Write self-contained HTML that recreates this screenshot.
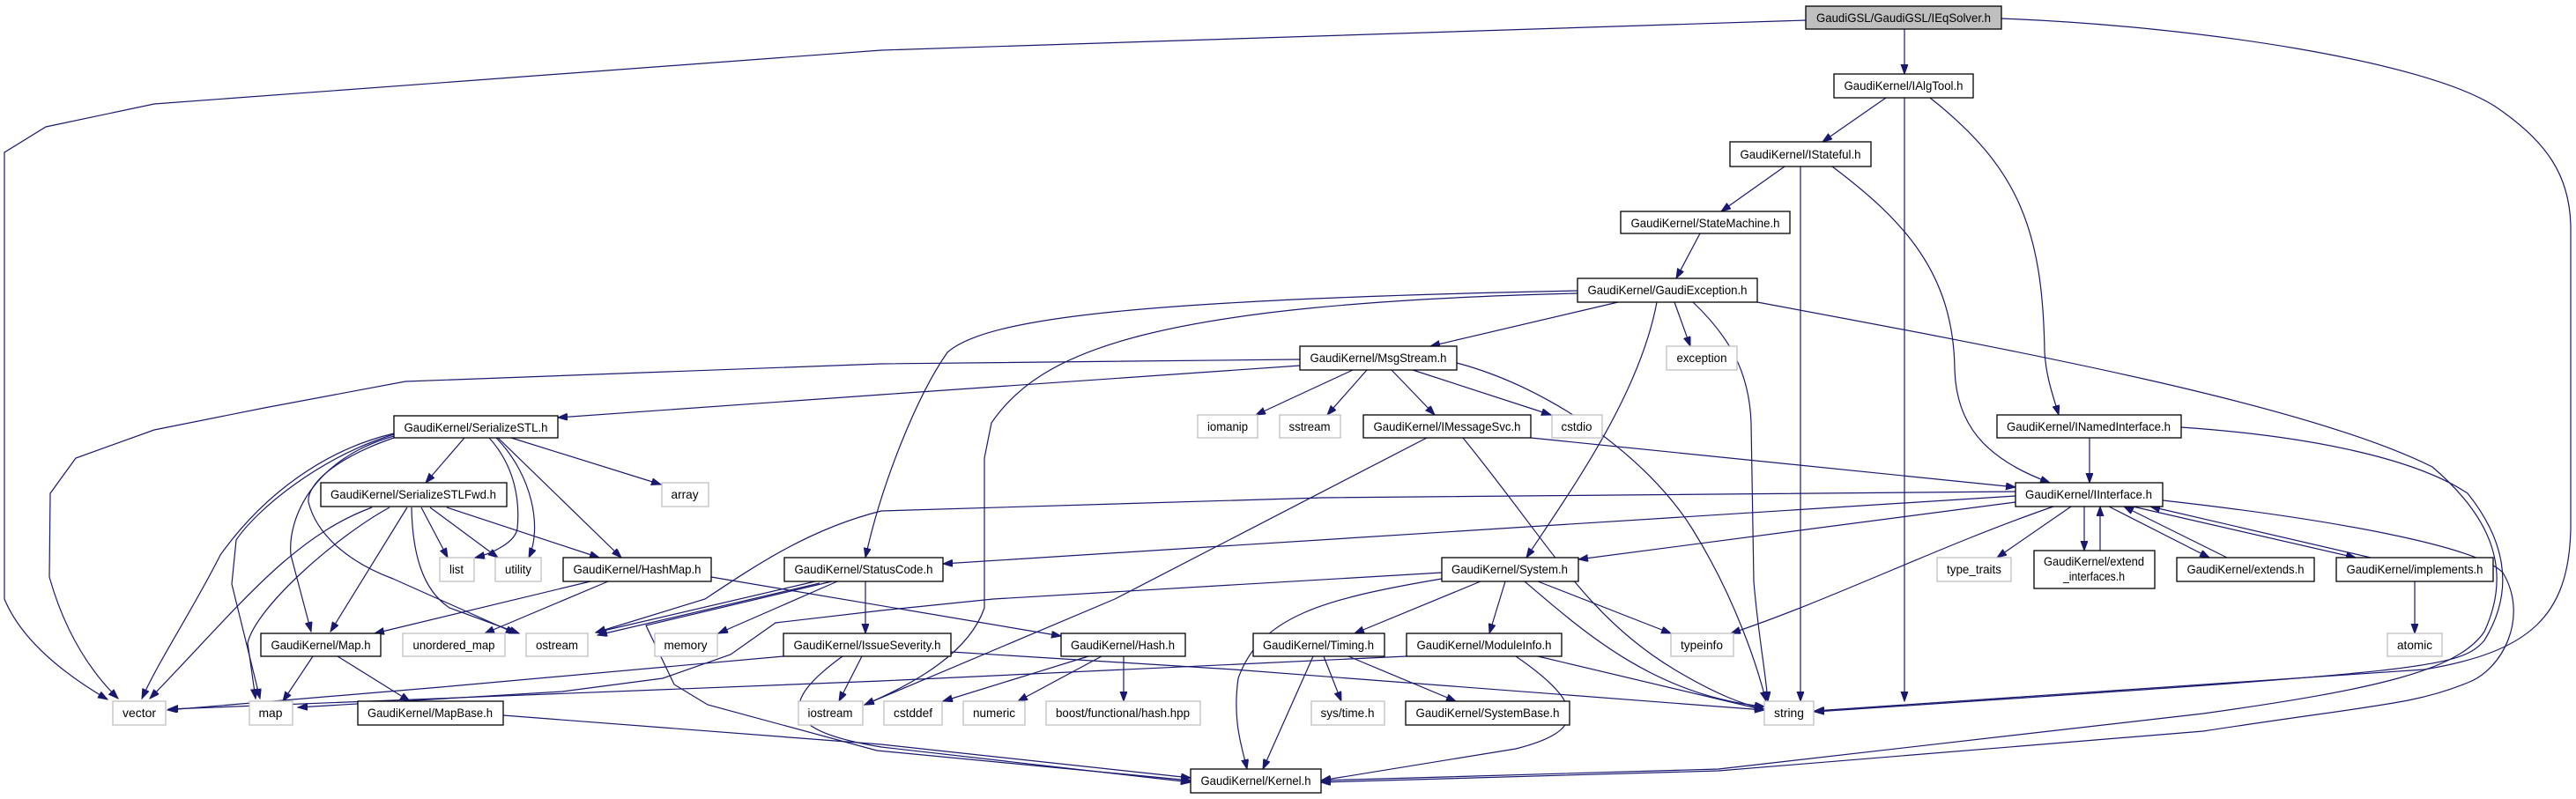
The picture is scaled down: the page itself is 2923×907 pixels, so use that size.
<!DOCTYPE html>
<html><head><meta charset="utf-8"><style>
html,body{margin:0;padding:0;background:#fff;}
svg{display:block;}
text{font-family:"Liberation Sans",sans-serif;font-size:14px;fill:#000;}
.e{fill:none;stroke:#191970;stroke-width:1.2;}
.n{fill:#fff;stroke:#000;stroke-width:1.3;}
.g{fill:#fff;stroke:#bfbfbf;stroke-width:1.3;}
</style></head><body>
<svg width="2923" height="907" viewBox="0 0 2923 907" xmlns="http://www.w3.org/2000/svg">
<defs><marker id="a" markerUnits="userSpaceOnUse" markerWidth="12" markerHeight="9" refX="11" refY="4" orient="auto"><path d="M0,0 L11,4 L0,8 z" fill="#191970" stroke="#191970"/></marker></defs>
<g class="e" marker-end="url(#a)">
<path d="M2049,23 L1000,57 L175,118 L52,144 L5,173 L5,680 Q30,740 122,794"/>
<path d="M2271,21 C2500,30 2750,70 2830,120 C2890,160 2917,200 2917,260 L2917,600 C2915,700 2870,740 2751,760 L2059,807"/>
<path d="M2161,33 L2161,84"/>
<path d="M2140,111 L2068,161"/>
<path d="M2161,111 L2161,796"/>
<path d="M2190,111 C2290,190 2318,260 2320,400 C2322,430 2330,450 2336,471"/>
<path d="M2025,189 L1953,240"/>
<path d="M2043,189 L2043,796"/>
<path d="M2079,189 C2160,250 2217,310 2218,420 C2220,480 2250,520 2326,548"/>
<path d="M1929,265 L1902,316"/>
<path d="M1836,343 L1623,393"/>
<path d="M1900,343 L1918,393"/>
<path d="M1921,343 C1960,380 1985,420 1987,480 L1990,660 C1995,720 2003,760 2006,796"/>
<path d="M1994,343 C2300,400 2620,460 2760,530 C2830,590 2850,650 2819,717 C2790,760 2701,782 2500,810 L1950,873 L1499,886"/>
<path d="M1880,343 C1860,450 1780,560 1732,633"/>
<path d="M1790,330 C1300,340 1120,360 1075,400 C1040,450 1000,550 982,633"/>
<path d="M1790,333 C1300,345 1180,400 1125,480 L1117,520 L1117,690 C1100,740 1040,775 981,800"/>
<path d="M1475,415 L1000,448 L633,474"/>
<path d="M1475,408 L1000,413 L460,433 L300,463 L175,488 L86,520 L57,560 L56,655 Q80,740 134,793"/>
<path d="M1535,420 L1425,471"/>
<path d="M1551,420 L1506,471"/>
<path d="M1579,420 L1628,471"/>
<path d="M1603,420 L1760,471"/>
<path d="M1653,412 C1760,440 1870,520 1920,600 C1970,680 1995,760 2004,796"/>
<path d="M1737,497 L2287,553"/>
<path d="M1619,497 L1265,680 L981,800"/>
<path d="M1660,497 C1760,620 1800,700 1900,760 C1950,790 1980,800 2002,805"/>
<path d="M2371,497 L2371,548"/>
<path d="M2475,485 C2620,495 2740,520 2800,560 C2840,610 2856,667 2819,727 C2790,760 2751,762 2059,808"/>
<path d="M2287,563 L1070,640"/>
<path d="M2287,570 L1791,635"/>
<path d="M2287,558 L1500,565 L1000,580 C920,600 860,640 800,680 L676,718"/>
<path d="M2330,575 C2200,620 2080,680 1964,719"/>
<path d="M2350,575 L2266,633"/>
<path d="M2365,575 L2365,625"/>
<path d="M2383,625 L2383,575"/>
<path d="M2393,575 L2507,633"/>
<path d="M2527,633 L2410,575"/>
<path d="M2420,575 L2673,633"/>
<path d="M2690,633 L2440,575"/>
<path d="M2454,568 C2650,590 2810,620 2840,650 C2870,700 2840,760 2800,775 C2740,800 2695,800 2500,830 L1950,875 L1499,888"/>
<path d="M2740,660 L2740,719"/>
<path d="M527,497 L483,548"/>
<path d="M580,497 L750,550"/>
<path d="M555,497 C585,530 590,570 587,600 C585,615 560,628 539,633"/>
<path d="M563,497 C605,540 615,600 600,633"/>
<path d="M565,497 L705,633"/>
<path d="M447,492 C370,510 300,560 250,630 C220,690 180,750 161,793"/>
<path d="M422,576 C330,610 270,690 170,793"/>
<path d="M447,493 C360,520 290,580 268,613 L263,663 L295,793"/>
<path d="M442,576 C380,610 290,690 281,730 L290,793"/>
<path d="M447,495 C357,520 326,587 330,630 L353,717"/>
<path d="M462,576 L375,717"/>
<path d="M447,497 C380,520 348,550 350,570 C360,610 400,640 446,657 L585,719"/>
<path d="M467,576 C468,630 480,670 510,690 L589,719"/>
<path d="M478,576 L508,633"/>
<path d="M488,576 L565,633"/>
<path d="M507,576 L680,633"/>
<path d="M670,660 L425,719"/>
<path d="M690,660 L550,719"/>
<path d="M807,655 L1204,722"/>
<path d="M355,745 L321,796"/>
<path d="M383,745 L465,796"/>
<path d="M571,812 L1000,845 L1351,883"/>
<path d="M925,660 L676,718"/>
<path d="M930,662 L678,721"/>
<path d="M950,660 L815,719"/>
<path d="M982,660 L982,719"/>
<path d="M944,660 L733,710 L765,777 L803,800 L995,852 L1351,886"/>
<path d="M1636,650 L1127,680 L1000,693 L880,707 L829,743 L752,770 L638,785 L338,803"/>
<path d="M889,745 L500,780 L190,806"/>
<path d="M978,745 L952,796"/>
<path d="M956,745 C880,800 890,830 1000,848 L1351,888"/>
<path d="M1079,740 L1400,760 L2002,806"/>
<path d="M1596,745 L1000,773 L191,805"/>
<path d="M1680,660 L1537,719"/>
<path d="M1708,660 L1690,719"/>
<path d="M1745,660 L1896,719"/>
<path d="M1730,660 C1800,720 1880,790 2002,802"/>
<path d="M1636,657 C1500,680 1430,700 1405,770 C1398,820 1410,850 1415,873"/>
<path d="M1235,745 L1070,796"/>
<path d="M1250,745 L1155,796"/>
<path d="M1275,745 L1275,796"/>
<path d="M1490,745 L1433,873"/>
<path d="M1502,745 L1522,796"/>
<path d="M1530,745 L1652,796"/>
<path d="M1720,745 C1800,800 1800,830 1720,850 L1499,886"/>
<path d="M1745,745 L2002,806"/>
</g>
<g>
<rect x="2049" y="7" width="222" height="26" fill="#bfbfbf" stroke="#000" stroke-width="1.3"/>
<text x="2160" y="25" text-anchor="middle" textLength="198" lengthAdjust="spacingAndGlyphs">GaudiGSL/GaudiGSL/IEqSolver.h</text>
</g>
<g id="nodes"></g>
<g>
<rect class="n" x="2081" y="84" width="158" height="27"/><text x="2160" y="102" text-anchor="middle" textLength="135" lengthAdjust="spacingAndGlyphs">GaudiKernel/IAlgTool.h</text>
<rect class="n" x="1963" y="161" width="160" height="28"/><text x="2043" y="180" text-anchor="middle" textLength="137" lengthAdjust="spacingAndGlyphs">GaudiKernel/IStateful.h</text>
<rect class="n" x="1839" y="240" width="192" height="25"/><text x="1935" y="258" text-anchor="middle" textLength="169" lengthAdjust="spacingAndGlyphs">GaudiKernel/StateMachine.h</text>
<rect class="n" x="1790" y="316" width="204" height="27"/><text x="1892" y="334" text-anchor="middle" textLength="181" lengthAdjust="spacingAndGlyphs">GaudiKernel/GaudiException.h</text>
<rect class="n" x="1475" y="393" width="178" height="27"/><text x="1564" y="411" text-anchor="middle" textLength="155" lengthAdjust="spacingAndGlyphs">GaudiKernel/MsgStream.h</text>
<rect class="g" x="1891" y="393" width="80" height="27"/><text x="1931" y="411" text-anchor="middle" textLength="57" lengthAdjust="spacingAndGlyphs">exception</text>
<rect class="n" x="447" y="472" width="186" height="25"/><text x="540" y="490" text-anchor="middle" textLength="163" lengthAdjust="spacingAndGlyphs">GaudiKernel/SerializeSTL.h</text>
<rect class="g" x="1359" y="471" width="68" height="26"/><text x="1393" y="489" text-anchor="middle" textLength="46" lengthAdjust="spacingAndGlyphs">iomanip</text>
<rect class="g" x="1452" y="471" width="69" height="26"/><text x="1486" y="489" text-anchor="middle" textLength="47" lengthAdjust="spacingAndGlyphs">sstream</text>
<rect class="n" x="1547" y="471" width="190" height="26"/><text x="1642" y="489" text-anchor="middle" textLength="167" lengthAdjust="spacingAndGlyphs">GaudiKernel/IMessageSvc.h</text>
<rect class="g" x="1761" y="471" width="57" height="26"/><text x="1789" y="489" text-anchor="middle" textLength="35" lengthAdjust="spacingAndGlyphs">cstdio</text>
<rect class="n" x="2266" y="471" width="209" height="26"/><text x="2370" y="489" text-anchor="middle" textLength="186" lengthAdjust="spacingAndGlyphs">GaudiKernel/INamedInterface.h</text>
<rect class="n" x="364" y="548" width="211" height="27"/><text x="469" y="566" text-anchor="middle" textLength="188" lengthAdjust="spacingAndGlyphs">GaudiKernel/SerializeSTLFwd.h</text>
<rect class="g" x="751" y="548" width="53" height="27"/><text x="777" y="566" text-anchor="middle" textLength="31" lengthAdjust="spacingAndGlyphs">array</text>
<rect class="n" x="2287" y="548" width="167" height="27"/><text x="2370" y="566" text-anchor="middle" textLength="144" lengthAdjust="spacingAndGlyphs">GaudiKernel/IInterface.h</text>
<rect class="g" x="499" y="633" width="39" height="27"/><text x="518" y="651" text-anchor="middle" textLength="16" lengthAdjust="spacingAndGlyphs">list</text>
<rect class="g" x="562" y="633" width="52" height="27"/><text x="588" y="651" text-anchor="middle" textLength="30" lengthAdjust="spacingAndGlyphs">utility</text>
<rect class="n" x="639" y="633" width="168" height="27"/><text x="723" y="651" text-anchor="middle" textLength="145" lengthAdjust="spacingAndGlyphs">GaudiKernel/HashMap.h</text>
<rect class="n" x="890" y="633" width="180" height="27"/><text x="980" y="651" text-anchor="middle" textLength="157" lengthAdjust="spacingAndGlyphs">GaudiKernel/StatusCode.h</text>
<rect class="n" x="1636" y="633" width="155" height="27"/><text x="1713" y="651" text-anchor="middle" textLength="132" lengthAdjust="spacingAndGlyphs">GaudiKernel/System.h</text>
<rect class="g" x="2198" y="633" width="84" height="27"/><text x="2240" y="651" text-anchor="middle" textLength="62" lengthAdjust="spacingAndGlyphs">type_traits</text>
<rect class="n" x="2308" y="625" width="137" height="43"/><text x="2376" y="642" text-anchor="middle" textLength="114" lengthAdjust="spacingAndGlyphs">GaudiKernel/extend</text><text x="2376" y="659" text-anchor="middle" textLength="70" lengthAdjust="spacingAndGlyphs">_interfaces.h</text>
<rect class="n" x="2470" y="633" width="156" height="27"/><text x="2548" y="651" text-anchor="middle" textLength="133" lengthAdjust="spacingAndGlyphs">GaudiKernel/extends.h</text>
<rect class="n" x="2651" y="633" width="178" height="27"/><text x="2740" y="651" text-anchor="middle" textLength="155" lengthAdjust="spacingAndGlyphs">GaudiKernel/implements.h</text>
<rect class="n" x="296" y="719" width="136" height="26"/><text x="364" y="737" text-anchor="middle" textLength="113" lengthAdjust="spacingAndGlyphs">GaudiKernel/Map.h</text>
<rect class="g" x="457" y="719" width="116" height="26"/><text x="515" y="737" text-anchor="middle" textLength="93" lengthAdjust="spacingAndGlyphs">unordered_map</text>
<rect class="g" x="597" y="719" width="70" height="26"/><text x="632" y="737" text-anchor="middle" textLength="48" lengthAdjust="spacingAndGlyphs">ostream</text>
<rect class="g" x="743" y="719" width="71" height="26"/><text x="778" y="737" text-anchor="middle" textLength="49" lengthAdjust="spacingAndGlyphs">memory</text>
<rect class="n" x="889" y="719" width="190" height="26"/><text x="984" y="737" text-anchor="middle" textLength="167" lengthAdjust="spacingAndGlyphs">GaudiKernel/IssueSeverity.h</text>
<rect class="n" x="1204" y="719" width="141" height="26"/><text x="1274" y="737" text-anchor="middle" textLength="118" lengthAdjust="spacingAndGlyphs">GaudiKernel/Hash.h</text>
<rect class="n" x="1422" y="719" width="149" height="26"/><text x="1496" y="737" text-anchor="middle" textLength="126" lengthAdjust="spacingAndGlyphs">GaudiKernel/Timing.h</text>
<rect class="n" x="1596" y="719" width="176" height="26"/><text x="1684" y="737" text-anchor="middle" textLength="153" lengthAdjust="spacingAndGlyphs">GaudiKernel/ModuleInfo.h</text>
<rect class="g" x="1896" y="719" width="71" height="26"/><text x="1931" y="737" text-anchor="middle" textLength="48" lengthAdjust="spacingAndGlyphs">typeinfo</text>
<rect class="g" x="2709" y="719" width="62" height="26"/><text x="2740" y="737" text-anchor="middle" textLength="40" lengthAdjust="spacingAndGlyphs">atomic</text>
<rect class="g" x="128" y="796" width="60" height="27"/><text x="158" y="814" text-anchor="middle" textLength="38" lengthAdjust="spacingAndGlyphs">vector</text>
<rect class="g" x="283" y="796" width="49" height="27"/><text x="307" y="814" text-anchor="middle" textLength="27" lengthAdjust="spacingAndGlyphs">map</text>
<rect class="n" x="406" y="796" width="165" height="27"/><text x="488" y="814" text-anchor="middle" textLength="142" lengthAdjust="spacingAndGlyphs">GaudiKernel/MapBase.h</text>
<rect class="g" x="906" y="796" width="73" height="27"/><text x="942" y="814" text-anchor="middle" textLength="51" lengthAdjust="spacingAndGlyphs">iostream</text>
<rect class="g" x="1003" y="796" width="66" height="27"/><text x="1036" y="814" text-anchor="middle" textLength="44" lengthAdjust="spacingAndGlyphs">cstddef</text>
<rect class="g" x="1093" y="796" width="70" height="27"/><text x="1128" y="814" text-anchor="middle" textLength="48" lengthAdjust="spacingAndGlyphs">numeric</text>
<rect class="g" x="1187" y="796" width="175" height="27"/><text x="1274" y="814" text-anchor="middle" textLength="152" lengthAdjust="spacingAndGlyphs">boost/functional/hash.hpp</text>
<rect class="g" x="1488" y="796" width="83" height="27"/><text x="1529" y="814" text-anchor="middle" textLength="61" lengthAdjust="spacingAndGlyphs">sys/time.h</text>
<rect class="n" x="1595" y="796" width="186" height="27"/><text x="1688" y="814" text-anchor="middle" textLength="163" lengthAdjust="spacingAndGlyphs">GaudiKernel/SystemBase.h</text>
<rect class="g" x="2002" y="796" width="56" height="27"/><text x="2030" y="814" text-anchor="middle" textLength="34" lengthAdjust="spacingAndGlyphs">string</text>
<rect class="n" x="1351" y="873" width="148" height="27"/><text x="1425" y="891" text-anchor="middle" textLength="125" lengthAdjust="spacingAndGlyphs">GaudiKernel/Kernel.h</text>
</g>
</svg>
</body></html>
